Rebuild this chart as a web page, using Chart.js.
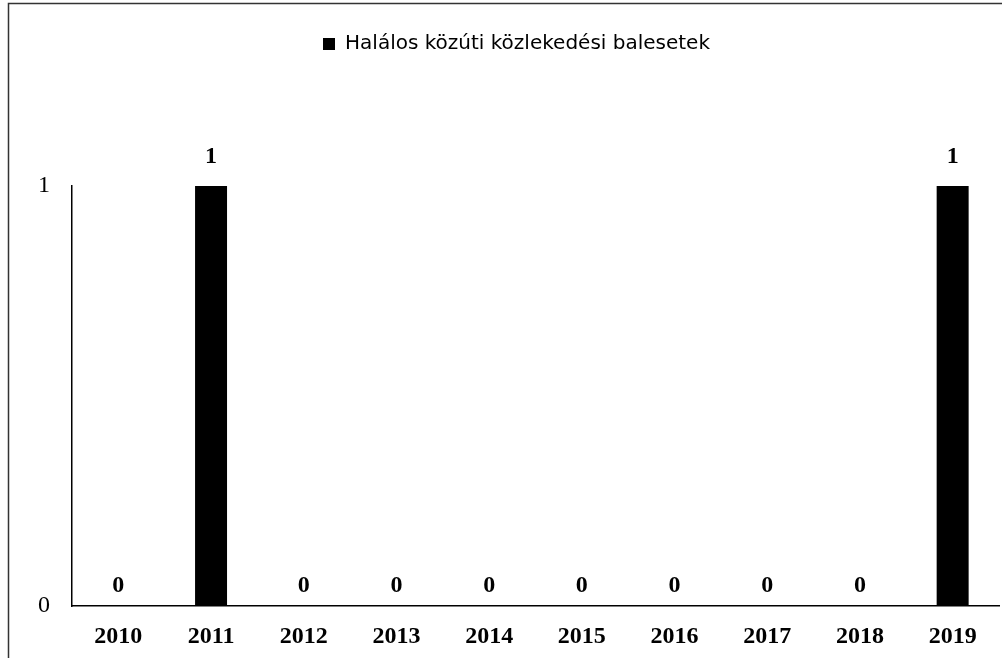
<!DOCTYPE html>
<html>
<head>
<meta charset="utf-8">
<script src="https://cdn.jsdelivr.net/npm/chart.js@4.4.0/dist/chart.umd.min.js"></script>
<style>
html,body{margin:0;padding:0;background:#fff;}
#wrap{width:1002px;height:658px;position:relative;}
</style>
</head>
<body>
<div id="wrap"><canvas id="c" width="1002" height="658"></canvas></div>
<script>
const categories = ['2010','2011','2012','2013','2014','2015','2016','2017','2018','2019'];
const seriesName = 'Halálos közúti közlekedési balesetek';
const values = [0,1,0,0,0,0,0,0,0,1];
const yTicks = [0,1];

const frame = {
  id:'frame',
  beforeDraw(chart){
    const ctx = chart.ctx;
    ctx.save();
    ctx.strokeStyle = '#333';
    ctx.lineWidth = 1.5;
    ctx.beginPath();
    ctx.moveTo(8.5, 658); ctx.lineTo(8.5, 3.5); ctx.lineTo(1002, 3.5);
    ctx.stroke();
    ctx.restore();
  }
};

const legendGap = {
  id:'legendGap',
  afterInit(chart){
    const lg = chart.legend;
    if(!lg) return;
    const f = lg.fit.bind(lg);
    lg.fit = function(){ f(); this.height = 162; };
    const d = lg.draw.bind(lg);
    lg.draw = function(){
      const ctx = chart.ctx;
      ctx.save(); ctx.translate(17,0); d(); ctx.restore();
    };
  }
};

const labels = {
  id:'valLabels',
  afterDatasetsDraw(chart){
    const ctx = chart.ctx;
    const meta = chart.getDatasetMeta(0);
    ctx.save();
    ctx.fillStyle = '#000';
    ctx.font = 'bold 24px "Liberation Serif"';
    ctx.textAlign = 'center';
    ctx.textBaseline = 'alphabetic';
    meta.data.forEach((bar,i)=>{
      const off = values[i] > 0 ? 23 : 14;
      ctx.fillText(String(values[i]), bar.x, bar.y - off);
    });
    ctx.restore();
  }
};

new Chart(document.getElementById('c'), {
  type:'bar',
  data:{
    labels:categories,
    datasets:[{label:seriesName,data:values,backgroundColor:'#000',borderWidth:0,
      barPercentage:0.345,categoryPercentage:1.0}]
  },
  options:{
    responsive:false,
    animation:false,
    devicePixelRatio:1,
    layout:{padding:{top:24,right:3,bottom:0,left:0}},
    plugins:{
      legend:{display:true,position:'top',
        labels:{boxWidth:12,boxHeight:12,padding:10,color:'#000',
          font:{family:'"DejaVu Sans"',size:20}}},
      tooltip:{enabled:false}
    },
    scales:{
      x:{
        grid:{display:false,drawTicks:false},
        border:{display:true,color:'#000',width:1.5},
        ticks:{color:'#000',padding:16,font:{family:'"Liberation Serif"',size:24,weight:'bold'}},
        afterFit(s){ s.height = 52; }
      },
      y:{
        min:0,max:1,
        afterBuildTicks(s){ s.ticks = yTicks.map(v=>({value:v})); },
        grid:{display:false,drawTicks:false},
        border:{display:true,color:'#000',width:1.5},
        ticks:{color:'#000',padding:22,font:{family:'"Liberation Serif"',size:24}},
        afterFit(s){ s.width = 72; }
      }
    }
  },
  plugins:[frame,legendGap,labels]
});
</script>
</body>
</html>
